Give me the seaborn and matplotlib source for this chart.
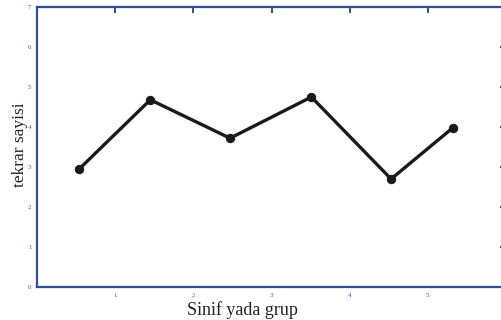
import matplotlib
matplotlib.use("Agg")
import matplotlib.pyplot as plt
import seaborn as sns
import pandas as pd

# Data
groups = [0.54, 1.45, 2.47, 3.51, 4.53, 5.32]
counts = [2.95, 4.68, 3.72, 4.75, 2.70, 3.98]
x_ticks = [1, 2, 3, 4, 5]
x_labels = ["1", "2", "3", "4", "5"]
y_ticks = [0, 1, 2, 3, 4, 5, 6, 7]
y_labels = ["0", "1", "2", "3", "4", "5", "6", "7"]

sns.set_style("white")
plt.rcParams["font.family"] = ["Liberation Serif", "DejaVu Serif"]

df = pd.DataFrame({"grup": groups, "sayi": counts})

fig = plt.figure(figsize=(5.01, 3.20), dpi=100)
ax = fig.add_axes([37 / 501, 33 / 320, 469 / 501, 280 / 320])

sns.lineplot(data=df, x="grup", y="sayi", ax=ax, color="#1a1a1a", linewidth=2.4,
             marker="o", markersize=6, markeredgecolor="#1a1a1a", sort=False)

ax.set_xlim(0, 6)
ax.set_ylim(0, 7)
ax.set_xticks(x_ticks)
ax.set_xticklabels(x_labels)
ax.set_yticks(y_ticks)
ax.set_yticklabels(y_labels)

spine_col = "#2f4f95"
for s in ax.spines.values():
    s.set_color(spine_col)
    s.set_linewidth(1.6)
    s.set_visible(True)
ax.tick_params(direction="in", length=4, width=1.4, color=spine_col,
               labelsize=5, labelcolor="#4060a8", top=True, right=True,
               pad=4)

ax.set_xlabel("Sinif yada grup", fontsize=13, color="#222222")
ax.xaxis.set_label_coords(0.439, -0.052)
ax.set_ylabel("tekrar sayisi", fontsize=12.5, color="#222222")
ax.yaxis.set_label_coords(-0.02, 0.507)

fig.savefig("out.png", dpi=100)
